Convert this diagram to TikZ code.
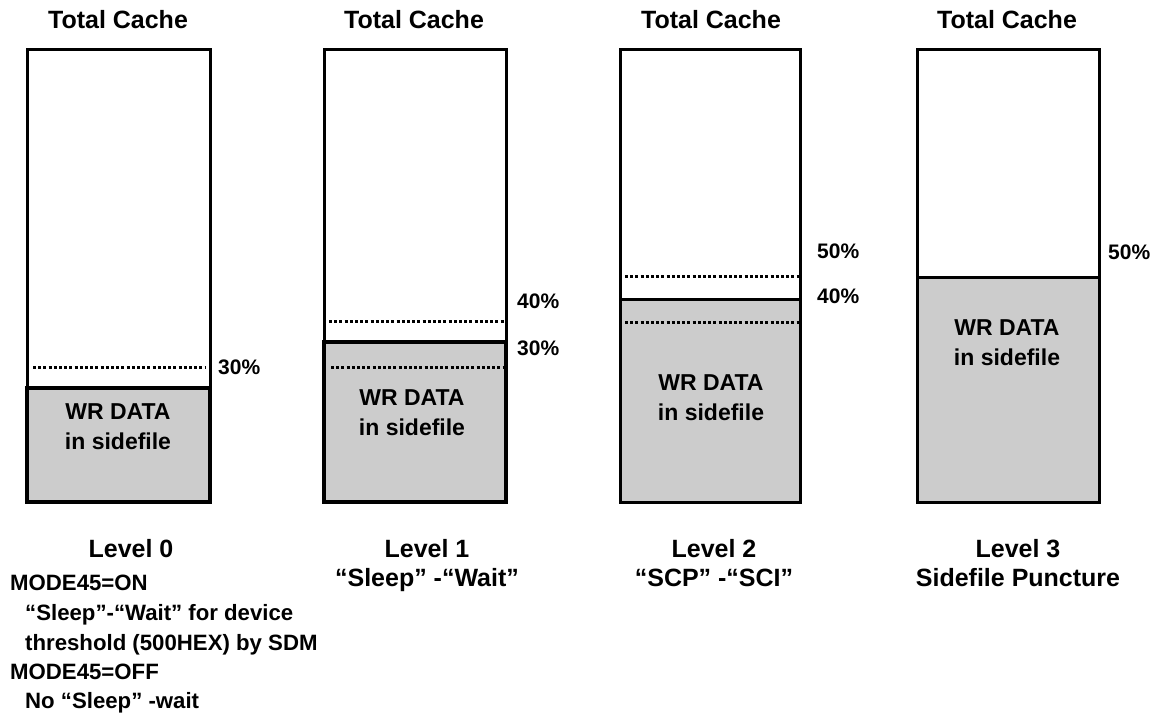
\documentclass[tikz,border=0pt]{standalone}
\usepackage{fontspec}
\setmainfont{Liberation Sans}
\usepackage{tikz}
\usetikzlibrary{positioning}
\definecolor{sidegray}{RGB}{204,204,204}

\begin{document}
\begin{tikzpicture}[
  x=1pt, y=-1pt,
  font=\fontsize{25}{29}\selectfont\bfseries,
  cache/.style={draw, line width=3pt},
  side/.style={draw, fill=sidegray, line width=3pt},
  heavy/.style={line width=4.5pt},
  limit/.style={line width=3pt, dash pattern=on 3pt off 2.2pt},
  pct/.style={anchor=west, inner sep=0pt, font=\fontsize{21}{25}\selectfont\bfseries},
  title/.style={anchor=base, inner sep=0pt},
  txt/.style={inner sep=0pt, align=center, font=\fontsize{23}{30}\selectfont\bfseries},
  lvl/.style={inner sep=0pt, align=center},
  note/.style={anchor=base west, inner sep=0pt, font=\fontsize{22.2}{26}\selectfont\bfseries}
]
\useasboundingbox (0,0) rectangle (1160,716);

\draw[cache] (27,49) rectangle (210,502);
\draw[side, heavy] (27,388) rectangle (210,502);
\draw[limit] (33,367) -- (205,367);
\node[title] (title0) at (118,28) {Total Cache};
\node[pct] (p30a) at (218,367) {30\%};
\node[txt] (data0) at (118,427) {WR DATA\\in sidefile};
\node[title] (lvl0) at (131,557) {Level 0};
\node[note] (on) at (10,590) {MODE45=ON};
\node[note] (wait) at (25,620) {“Sleep”-“Wait” for device};
\node[note] (thr) at (25,650) {threshold (500HEX) by SDM};
\node[note] (off) at (10,679) {MODE45=OFF};
\node[note] (nowait) at (25,708) {No “Sleep” -wait};

\draw[cache] (324,49) rectangle (506,502);
\draw[side, heavy] (324,342) rectangle (506,502);
\draw[limit] (329,321) -- (505,321);
\draw[limit] (331,367) -- (504,367);
\node[title] (title1) at (414,28) {Total Cache};
\node[pct] (p40a) at (517,301) {40\%};
\node[pct] (p30b) at (517,348) {30\%};
\node[txt] (data1) at (412,413) {WR DATA\\in sidefile};
\node[lvl] (lvl1) at (427,565.5) {Level 1\\“Sleep” -“Wait”};

\draw[cache] (620,49) rectangle (800,502);
\draw[side] (620,299) rectangle (800,502);
\draw[limit] (625,276) -- (799,276);
\draw[limit] (625,322) -- (799,322);
\node[title] (title2) at (711,28) {Total Cache};
\node[pct] (p50a) at (817,251) {50\%};
\node[pct] (p40b) at (817,296) {40\%};
\node[txt] (data2) at (711,398) {WR DATA\\in sidefile};
\node[lvl] (lvl2) at (714,563) {Level 2\\“SCP” -“SCI”};

\draw[cache] (917,49) rectangle (1099,502);
\draw[side] (917,277) rectangle (1099,502);
\node[title] (title3) at (1007,28) {Total Cache};
\node[pct] (p50b) at (1108,252) {50\%};
\node[txt] (data3) at (1007,343) {WR DATA\\in sidefile};
\node[lvl] (lvl3) at (1018,563) {Level 3\\Sidefile Puncture};
\end{tikzpicture}
\end{document}
